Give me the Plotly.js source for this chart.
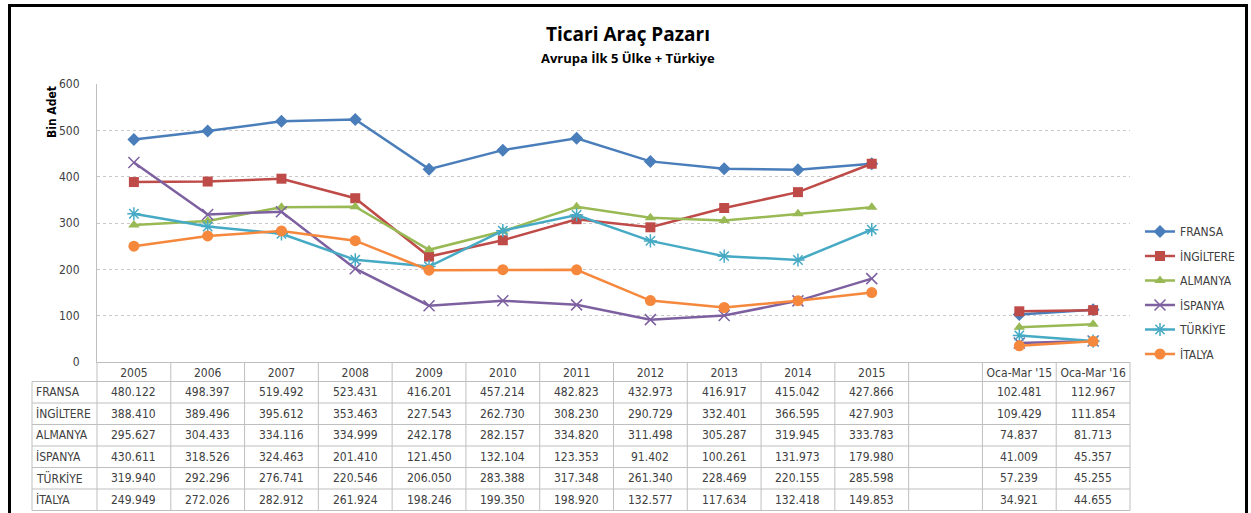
<!DOCTYPE html>
<html>
<head>
<meta charset="utf-8">
<script src="https://cdn.plot.ly/plotly-3.0.1.min.js"></script>
<style>html,body{margin:0;padding:0;background:#fff;}#chart{width:1251px;height:513px;}</style>
</head>
<body>
<div id="chart"></div>
<script>
// ---- data ----
const years = ['2005','2006','2007','2008','2009','2010','2011','2012','2013','2014','2015'];
const gapCategory = [' '];
const quarterCats = ["Oca-Mar '15", "Oca-Mar '16"];
const countries = ['FRANSA','İNGİLTERE','ALMANYA','İSPANYA','TÜRKİYE','İTALYA'];

const fransa     = [480.122, 498.397, 519.492, 523.431, 416.201, 457.214, 482.823, 432.973, 416.917, 415.042, 427.866];
const fransaQ    = [102.481, 112.967];
const ingiltere  = [388.410, 389.496, 395.612, 353.463, 227.543, 262.730, 308.230, 290.729, 332.401, 366.595, 427.903];
const ingiltereQ = [109.429, 111.854];
const almanya    = [295.627, 304.433, 334.116, 334.999, 242.178, 282.157, 334.820, 311.498, 305.287, 319.945, 333.783];
const almanyaQ   = [74.837, 81.713];
const ispanya    = [430.611, 318.526, 324.463, 201.410, 121.450, 132.104, 123.353, 91.402, 100.261, 131.973, 179.980];
const ispanyaQ   = [41.009, 45.357];
const turkiye    = [319.940, 292.296, 276.741, 220.546, 206.050, 283.388, 317.348, 261.340, 228.469, 220.155, 285.598];
const turkiyeQ   = [57.239, 45.255];
const italya     = [249.949, 272.026, 282.912, 261.924, 198.246, 199.350, 198.920, 132.577, 117.634, 132.418, 149.853];
const italyaQ    = [34.921, 44.655];

const annual = [fransa, ingiltere, almanya, ispanya, turkiye, italya];
const quarterly = [fransaQ, ingiltereQ, almanyaQ, ispanyaQ, turkiyeQ, italyaQ];

// ---- styles ----
const colors = ['#4A7EBB','#BE4B48','#98B954','#7D60A0','#46AAC5','#F5883C'];
const symbols = ['diamond','square','triangle-up','x-thin-open','asterisk-open','circle'];
const sizes = [10, 10, 10, 11, 11, 11];
const textFont = '"Liberation Sans Narrow", "DejaVu Sans Condensed", "Liberation Sans", sans-serif';
const textColor = '#404040';

const allCats = years.concat(gapCategory, quarterCats);

// pixel geometry of plot area
const W = 1251, H = 513;
const PL = 97, PR = 1130, PT = 84, PB = 362;
const pw = PR - PL, ph = PB - PT;
const px = x => (x - PL) / pw;
const py = y => (PB - y) / ph;

const traces = countries.map((name, i) => ({
  type: 'scatter', mode: 'lines+markers', name: name, legendgroup: 'g' + i,
  x: allCats,
  y: annual[i].concat([null], quarterly[i]),
  connectgaps: false,
  line: {color: colors[i], width: 2.5},
  marker: {symbol: symbols[i], size: sizes[i], color: colors[i],
           line: {color: colors[i], width: (symbols[i].indexOf('open') >= 0) ? 1.5 : 0}},
  hoverinfo: 'x+y+name'
}));

// ---- table (grid + text) ----
const shapes = [];
const annotations = [];
const headerBottom = 381.5, rowH = 21.5;
const nCols = allCats.length;
const gridColor = '#BFBFBF';
const tableBottom = headerBottom + rowH * countries.length;
const labelLeft = 32;

// horizontal lines
for (let r = 0; r <= countries.length; r++) {
  const y = headerBottom + rowH * r;
  shapes.push({type: 'line', xref: 'paper', yref: 'paper', x0: px(labelLeft), x1: 1, y0: py(y), y1: py(y),
               line: {color: gridColor, width: 1}});
}
// vertical lines
for (let k = 0; k <= nCols; k++) {
  shapes.push({type: 'line', xref: 'paper', yref: 'paper', x0: k / nCols, x1: k / nCols, y0: py(PB), y1: py(tableBottom),
               line: {color: gridColor, width: 1}});
}
shapes.push({type: 'line', xref: 'paper', yref: 'paper', x0: px(labelLeft), x1: px(labelLeft), y0: py(headerBottom), y1: py(tableBottom),
             line: {color: gridColor, width: 1}});
// outer frame
shapes.push({type: 'rect', xref: 'paper', yref: 'paper', x0: px(9.5), x1: px(1246.5), y0: py(516), y1: py(5.5),
             line: {color: '#000000', width: 3}, fillcolor: 'rgba(0,0,0,0)'});

countries.forEach((name, r) => {
  const yc = py(headerBottom + rowH * (r + 0.5));
  annotations.push({xref: 'paper', yref: 'paper', x: px(labelLeft + 2), y: yc, xanchor: 'left', yanchor: 'middle',
                    text: name, showarrow: false, font: {family: textFont, size: 12, color: textColor}});
  const vals = annual[r].concat([null], quarterly[r]);
  vals.forEach((v, c) => {
    if (v === null) return;
    annotations.push({xref: 'x', yref: 'paper', x: c, y: yc, xanchor: 'center', yanchor: 'middle',
                      text: v.toFixed(3), showarrow: false, font: {family: textFont, size: 12, color: textColor}});
  });
});

// y axis title placed near the top like the original
annotations.push({xref: 'paper', yref: 'paper', x: px(52), y: py(112), xanchor: 'center', yanchor: 'middle',
                  text: '<b>Bin Adet</b>', textangle: -90, showarrow: false,
                  font: {family: textFont, size: 12, color: '#000000'}});
// subtitle
annotations.push({xref: 'paper', yref: 'paper', x: px(628), y: py(58), xanchor: 'center', yanchor: 'middle',
                  text: '<b>Avrupa İlk 5 Ülke + Türkiye</b>', showarrow: false,
                  font: {family: '"Open Sans", sans-serif', size: 13, color: '#000000'}});

const layout = {
  width: W, height: H,
  margin: {l: PL, r: W - PR, t: PT, b: H - PB, pad: 0, autoexpand: false},
  paper_bgcolor: '#ffffff', plot_bgcolor: '#ffffff',
  font: {family: textFont, color: textColor, size: 12},
  title: {
    text: '<b>Ticari Araç Pazarı</b>',
    font: {family: '"Open Sans", sans-serif', size: 19, color: '#000000'},
    x: 0.502, xref: 'container', xanchor: 'center',
    y: 1 - 34 / H, yref: 'container', yanchor: 'middle'
  },
  showlegend: true,
  legend: {
    xref: 'container', yref: 'container',
    x: 1140 / W, y: 1 - 217 / H, xanchor: 'left', yanchor: 'top',
    font: {family: textFont, size: 12, color: textColor},
    tracegroupgap: 5.5, itemwidth: 30, bgcolor: 'rgba(0,0,0,0)'
  },
  xaxis: {
    type: 'category', categoryorder: 'array', categoryarray: allCats,
    range: [-0.5, nCols - 0.5], fixedrange: true,
    showgrid: false, zeroline: false,
    showline: true, linecolor: gridColor, linewidth: 1,
    ticks: '', tickfont: {family: textFont, size: 12, color: textColor}
  },
  yaxis: {
    range: [0, 600], dtick: 100, fixedrange: true,
    showgrid: true, gridcolor: '#C8C8C8', griddash: 'dot', gridwidth: 1,
    zeroline: false, showline: true, linecolor: gridColor, linewidth: 1,
    ticks: '', ticklabelstandoff: 14,
    tickfont: {family: textFont, size: 12, color: textColor}
  },
  shapes: shapes,
  annotations: annotations
};

Plotly.newPlot('chart', traces, layout, {displayModeBar: false, staticPlot: true});
</script>
</body>
</html>
